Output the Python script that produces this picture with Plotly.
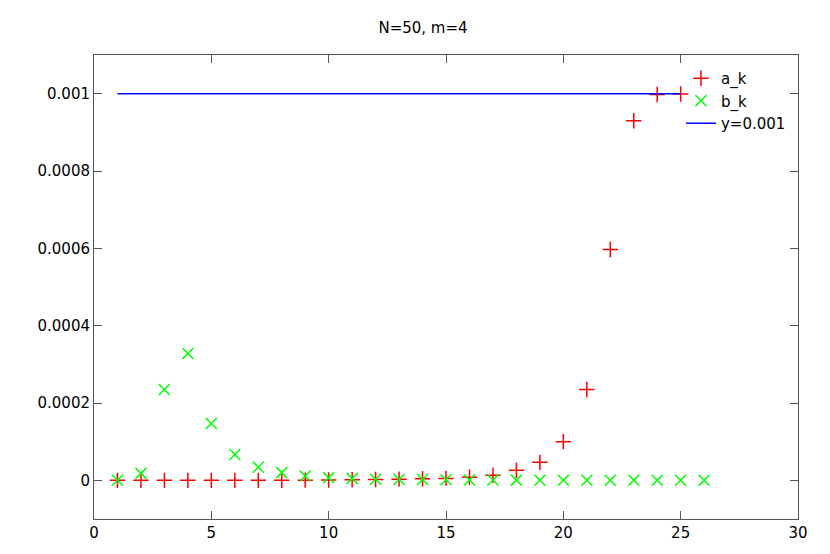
import plotly.graph_objects as go

k_a = list(range(1, 26))
a_k = [0, 0, 0, 0, 0, 0, 0, 0, 0.0000005, 0.000001, 0.0000015, 0.000002, 0.000003,
       0.000004, 0.000005, 0.000008, 0.000013, 0.000026, 0.0000465, 0.0001,
       0.000235, 0.000597, 0.00093, 0.000998, 0.000999]
k_b = list(range(1, 27))
b_k = [0, 0.000018, 0.000235, 0.000328, 0.000147, 0.000067, 0.000034, 0.00002,
       0.000011, 0.000007, 0.000005, 0.000003, 0.000002, 0.000002, 0.0000015,
       0.000001, 0.000001, 0.0000005, 0, 0, 0, 0, 0, 0, 0, 0]
line_x = [1, 25]
line_y = [0.001, 0.001]

x_ticks = [0, 5, 10, 15, 20, 25, 30]
y_ticks = [0, 0.0002, 0.0004, 0.0006, 0.0008, 0.001]
y_labels = ["0", "0.0002", "0.0004", "0.0006", "0.0008", "0.001"]

fig = go.Figure()
fig.add_trace(go.Scatter(x=k_a, y=a_k, name="a_k", mode="markers",
                         marker=dict(symbol="cross-thin", size=11, color="red",
                                     line=dict(color="red", width=1.5))))
fig.add_trace(go.Scatter(x=k_b, y=b_k, name="b_k", mode="markers",
                         marker=dict(symbol="x-thin", size=11, color="#00ff00",
                                     line=dict(color="#00ff00", width=1.5))))
fig.add_trace(go.Scatter(x=line_x, y=line_y, name="y=0.001", mode="lines",
                         line=dict(color="#0000ff", width=1.5)))

# gnuplot-style box: ticks inside on all four sides
axis_style = dict(showline=True, linecolor="#555555", linewidth=1, mirror="ticks",
                  ticks="inside", ticklen=8, tickcolor="#555555", showgrid=False,
                  zeroline=False, tickfont=dict(size=15, color="black"))
fig.update_xaxes(range=[0, 30], tickvals=x_ticks, **axis_style)
fig.update_yaxes(range=[-0.0001, 0.0011], tickvals=y_ticks, ticktext=y_labels, **axis_style)

# page body has an 8px margin, so margins are shifted to compensate
fig.update_layout(
    width=830, height=554,
    margin=dict(l=86, r=40, t=47, b=43),
    paper_bgcolor="white", plot_bgcolor="white",
    font=dict(family="DejaVu Sans", size=15, color="black"),
    title=dict(text="N=50, m=4", x=0.5, xanchor="center", y=1 - 20 / 554,
               yanchor="middle", font=dict(size=15)),
    legend=dict(x=0.99, y=0.985, xanchor="right", yanchor="top",
                bgcolor="rgba(0,0,0,0)", font=dict(size=15), tracegroupgap=0,
                itemwidth=30),
    showlegend=True,
)

fig.write_html("out.html")
